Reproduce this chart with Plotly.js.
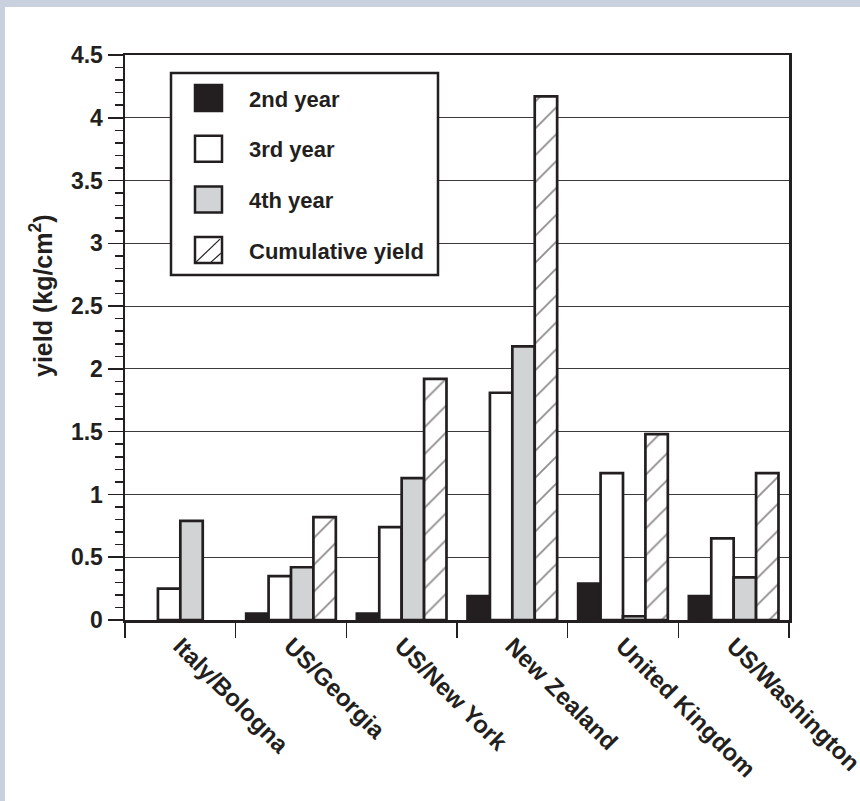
<!DOCTYPE html>
<html>
<head>
<meta charset="utf-8">
<script src="https://cdn.plot.ly/plotly-3.0.1.min.js"></script>
<style>
  html, body { margin: 0; padding: 0; background: #c9d1df; width: 860px; height: 801px; overflow: hidden; }
  #chart { position: absolute; left: 5px; top: 7px; width: 855px; height: 794px; background: #ffffff; }
</style>
</head>
<body>
<div id="chart"></div>
<script>
// ---- data ----
const categories = ['Italy/Bologna', 'US/Georgia', 'US/New York', 'New Zealand', 'United Kingdom', 'US/Washington'];
const seriesNames = ['2nd year', '3rd year', '4th year', 'Cumulative yield'];
const year2 = [null, 0.05, 0.05, 0.19, 0.29, 0.19];
const year3 = [0.25, 0.35, 0.74, 1.81, 1.17, 0.65];
const year4 = [0.79, 0.42, 1.13, 2.18, 0.03, 0.34];
const cumulative = [null, 0.82, 1.92, 4.17, 1.48, 1.17];
const yTitle = 'yield (kg/cm<sup>2</sup>)';

// ---- styling ----
const INK = '#231f20';
const GREY = '#d1d3d4';
const FONT = 'Liberation Sans, Arial, Helvetica, sans-serif';
const W = 855, H = 794;
const M = { l: 120, t: 48, r: 71, b: 181 };
const PW = W - M.l - M.r, PH = H - M.t - M.b;
const fx = px => (px - M.l) / PW;
const fy = py => (M.t + PH - py) / PH;

const line = { color: INK, width: 2.7 };
const traces = [
  { name: seriesNames[0], y: year2, marker: { color: INK, line: line } },
  { name: seriesNames[1], y: year3, marker: { color: '#ffffff', line: line } },
  { name: seriesNames[2], y: year4, marker: { color: GREY, line: line } },
  { name: seriesNames[3], y: cumulative, marker: { color: '#ffffff', line: line,
      pattern: { shape: '/', size: 19, solidity: 0.1, fgcolor: INK, fillmode: 'overlay' } } }
].map(t => Object.assign({ type: 'bar', x: categories, hoverinfo: 'x+y+name', showlegend: false }, t));

// ---- hand-built legend (large swatches as in the reference) ----
const shapes = [];
const annotations = [];
shapes.push({ type: 'rect', xref: 'paper', yref: 'paper', layer: 'above',
  x0: fx(166), x1: fx(433), y0: fy(268), y1: fy(66),
  fillcolor: '#ffffff', line: { color: INK, width: 2.5 } });
const swatchFill = [INK, '#ffffff', GREY, '#ffffff'];
const sx0 = 190, sx1 = 217, sh = 26;
seriesNames.forEach((nm, i) => {
  const cy = 91 + i * 50.7;
  shapes.push({ type: 'rect', xref: 'paper', yref: 'paper', layer: 'above',
    x0: fx(sx0), x1: fx(sx1), y0: fy(cy + sh / 2), y1: fy(cy - sh / 2),
    fillcolor: swatchFill[i], line: { color: INK, width: 2.5 } });
  if (i === 3) {
    shapes.push({ type: 'line', xref: 'paper', yref: 'paper', layer: 'above',
      x0: fx(sx0 + 1), y0: fy(cy + sh / 2 - 1), x1: fx(sx1 - 2), y1: fy(cy - sh / 2 + 2),
      line: { color: INK, width: 1.2 } });
    shapes.push({ type: 'line', xref: 'paper', yref: 'paper', layer: 'above',
      x0: fx(sx0 + 16), y0: fy(cy + sh / 2 - 1), x1: fx(sx1 - 1), y1: fy(cy + 3),
      line: { color: INK, width: 1.2 } });
  }
  annotations.push({ xref: 'paper', yref: 'paper', x: fx(242), y: fy(cy + 1), xanchor: 'left', yanchor: 'middle',
    text: nm, showarrow: false, font: { family: FONT, size: 22, weight: 700, color: INK } });
});

// y-axis title (placed as in the reference, above the plot's mid-height)
annotations.push({ xref: 'paper', yref: 'paper', x: fx(36), y: fy(289), xanchor: 'center', yanchor: 'middle',
  textangle: -90, text: yTitle, showarrow: false, font: { family: FONT, size: 25, weight: 700, color: INK } });

const layout = {
  width: W, height: H,
  margin: M,
  paper_bgcolor: '#ffffff', plot_bgcolor: '#ffffff',
  font: { family: FONT, size: 22, weight: 700, color: INK },
  barmode: 'group', bargap: 0.19, bargroupgap: 0,
  showlegend: false,
  xaxis: {
    type: 'category', range: [-0.5, 5.5], tickson: 'boundaries',
    ticks: 'outside', ticklen: 15, tickwidth: 1.5, tickcolor: INK,
    showline: true, linecolor: INK, linewidth: 2.5, mirror: true,
    showgrid: false, tickangle: 45,
    tickfont: { family: FONT, size: 24, weight: 700, color: INK },
    automargin: false
  },
  yaxis: {
    range: [0, 4.5], dtick: 0.5, tick0: 0,
    ticks: 'outside', ticklen: 15, tickwidth: 1.5, tickcolor: INK,
    minor: { dtick: 0.1, ticks: 'outside', ticklen: 8, tickwidth: 1.5, tickcolor: INK, showgrid: false },
    showline: true, linecolor: INK, linewidth: 2.5, mirror: true,
    showgrid: true, gridcolor: '#3a3a3a', gridwidth: 1, zeroline: false,
    tickfont: { family: FONT, size: 23, weight: 700, color: INK },
    automargin: false
  },
  shapes: shapes,
  annotations: annotations
};

Plotly.newPlot('chart', traces, layout, { displayModeBar: false, staticPlot: true });
</script>
</body>
</html>
